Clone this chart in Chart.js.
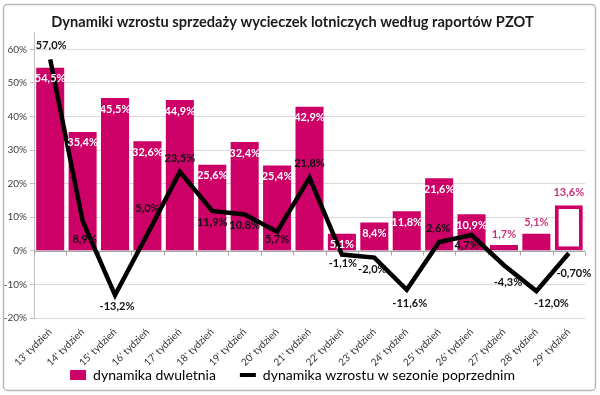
<!DOCTYPE html>
<html><head><meta charset="utf-8">
<script src="https://cdn.jsdelivr.net/npm/chart.js@4.4.1/dist/chart.umd.min.js"></script>
<style>html,body{margin:0;padding:0;background:#fff}#wrap{width:600px;height:395px}</style>
</head><body><div id="wrap"><canvas id="c" width="600" height="395"></canvas></div>
<script>
const categories = ["13' tydzień","14' tydzień","15' tydzień","16' tydzień","17' tydzień","18' tydzień","19' tydzień","20' tydzień","21' tydzień","22' tydzień","23' tydzień","24' tydzień","25' tydzień","26' tydzień","27' tydzień","28' tydzień","29' tydzień"];
const dynamikaDwuletnia = [54.5,35.4,45.5,32.6,44.9,25.6,32.4,25.4,42.9,5.1,8.4,11.8,21.6,10.9,1.7,5.1,13.6];
const dynamikaPoprzedni = [57.0,8.9,-13.2,5.0,23.5,11.9,10.8,5.7,21.8,-1.1,-2.0,-11.6,2.6,4.7,-4.3,-12.0,-0.70];
const lineDecimals = [1,1,1,1,1,1,1,1,1,1,1,1,1,1,1,1,2];
const yTicks = [-20,-10,0,10,20,30,40,50,60];
const seriesNames = ['dynamika dwuletnia','dynamika wzrostu w sezonie poprzednim'];

const PINK = '#cc0066';
const FONT = 'Lato, "Open Sans", sans-serif';

// label placement (styles only)
const barLabelOutside = [0,0,0,0,0,0,0,0,0,0,0,0,0,0,1,1,1];
const lineLabelOffset = [[1,-14],[2,19],[2,11],[0,-26],[0,-13],[0,12],[0,11],[0,8],[0,-14],[1,9],[-2,12],[3,14],[-1,-14],[-5,10],[4,17],[15,12],[5,20]];

function fmt(v, d){ return v.toFixed(d).replace('.', ',') + '%'; }

const framePlugin = {
  id:'frame',
  beforeDraw(chart){
    const c = chart.ctx; c.save();
    c.fillStyle = '#fff'; c.fillRect(0,0,chart.width,chart.height);
    c.strokeStyle = '#b8b8b8'; c.lineWidth = 1.5;
    c.beginPath();
    if (c.roundRect) c.roundRect(3.5,4.5,592,386,4); else c.rect(3.5,4.5,592,386);
    c.stroke(); c.restore();
  }
};

const zeroAxisPlugin = {
  id:'zeroAxis',
  beforeDatasetsDraw(chart){
    const c = chart.ctx, x = chart.scales.x, y = chart.scales.y;
    const y0 = Math.round(y.getPixelForValue(0)) + 0.5;
    c.save(); c.strokeStyle = '#a6a6a6'; c.lineWidth = 1;
    c.beginPath(); c.moveTo(chart.chartArea.left, y0); c.lineTo(chart.chartArea.right, y0);
    for (let i = 0; i <= categories.length; i++) {
      const px = Math.round(x.getPixelForValue(i - 0.5)) + 0.5;
      c.moveTo(px, y0); c.lineTo(px, y0 + 4);
    }
    c.stroke(); c.restore();
  }
};

const labelPlugin = {
  id:'valueLabels',
  afterDatasetsDraw(chart){
    const c = chart.ctx; c.save();
    c.font = 'bold 11px ' + FONT; c.textAlign = 'center'; c.textBaseline = 'middle';
    const barMeta = chart.getDatasetMeta(0);
    barMeta.data.forEach((el, i) => {
      const v = dynamikaDwuletnia[i];
      if (barLabelOutside[i]) {
        c.fillStyle = '#c8307c';
        c.fillText(fmt(v,1), el.x, el.y - (i === 16 ? 13 : 11));
      } else {
        c.fillStyle = '#ffffff';
        c.fillText(fmt(v,1), el.x, el.y + 11);
      }
    });
    const lineMeta = chart.getDatasetMeta(1);
    c.fillStyle = '#111111';
    lineMeta.data.forEach((el, i) => {
      const o = lineLabelOffset[i];
      c.fillText(fmt(dynamikaPoprzedni[i], lineDecimals[i]), el.x + o[0], el.y + o[1]);
    });
    c.restore();
  }
};

new Chart(document.getElementById('c'), {
  data: {
    labels: categories,
    datasets: [
      {
        type:'bar', label: seriesNames[0], data: dynamikaDwuletnia, order: 1,
        backgroundColor: dynamikaDwuletnia.map((v,i) => i === 16 ? '#ffffff' : PINK),
        borderColor: PINK,
        borderWidth: dynamikaDwuletnia.map((v,i) => i === 16 ? 4 : 0),
        borderSkipped: false,
        barPercentage: 0.865, categoryPercentage: 1.0
      },
      {
        type:'line', label: seriesNames[1], data: dynamikaPoprzedni, order: 0,
        borderColor:'#000000', backgroundColor:'#000000', borderWidth: 4.5,
        pointRadius: 0, tension: 0, fill: false
      }
    ]
  },
  options: {
    responsive: false, animation: false, devicePixelRatio: 1,
    layout: { padding: { top: 7, right: 15, left: 0, bottom: 3 } },
    plugins: {
      tooltip: { enabled: false },
      title: {
        display: true,
        text: 'Dynamiki wzrostu sprzedaży wycieczek lotniczych według raportów PZOT',
        color: '#1a1a1a', font: { family: FONT, size: 14.6, weight: 'bold' },
        padding: { top: 7, bottom: 1 }
      },
      legend: {
        position: 'bottom',
        labels: {
          usePointStyle: true, pointStyleWidth: 16, boxHeight: 10,
          color: '#1a1a1a', font: { family: FONT, size: 14 }, padding: 24,
          sort: (a,b) => a.datasetIndex - b.datasetIndex,
          generateLabels(chart){
            return [
              { text: seriesNames[0], fillStyle: PINK, strokeStyle: PINK, lineWidth: 0, pointStyle: 'rect', datasetIndex: 0, hidden: false },
              { text: seriesNames[1], fillStyle: '#000', strokeStyle: '#000', lineWidth: 4, pointStyle: 'line', datasetIndex: 1, hidden: false }
            ];
          }
        }
      }
    },
    scales: {
      x: {
        grid: { display: false, drawTicks: false },
        border: { display: false },
        ticks: { minRotation: 45, maxRotation: 45, padding: 8, color: '#333', font: { family: FONT, size: 10 }, autoSkip: false },
        afterFit(s){ s.height = 26; s._computeLabelArea = function(){ return undefined; }; }
      },
      y: {
        min: -20, max: 65,
        afterBuildTicks(s){ s.ticks = yTicks.map(v => ({ value: v })); },
        grid: { color: '#d9d9d9', tickLength: 4, tickColor: '#bfbfbf' },
        border: { display: true, color: '#bfbfbf' },
        ticks: { stepSize: 10, padding: 3, color: '#404040', font: { family: FONT, size: 10 }, callback: v => v + '%' },
        afterFit(s){ s.width = 34; }
      }
    }
  },
  plugins: [framePlugin, zeroAxisPlugin, labelPlugin]
});
</script>
</body></html>
